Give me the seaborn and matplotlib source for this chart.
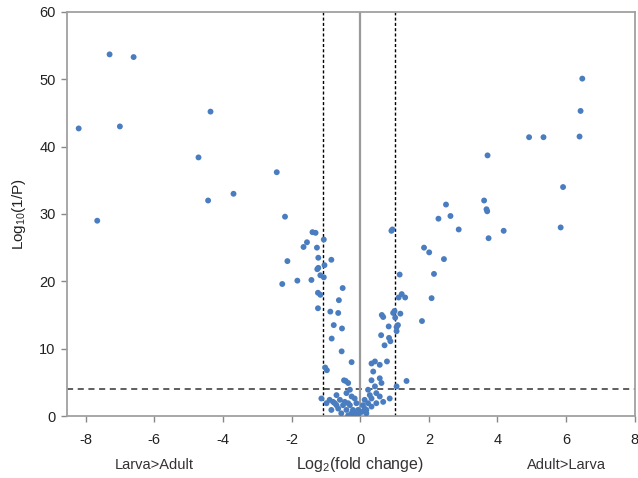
import matplotlib
matplotlib.use("Agg")
import matplotlib.pyplot as plt
import matplotlib.transforms as mtransforms
import seaborn as sns
import pandas as pd

# log2 fold change (x) and log10(1/P) (y)
lfc = [
    -8.20, -7.30, -6.60, -7.00, -7.66, -4.36, -4.71, -4.43, -3.69, -2.43, -2.19,
    -1.39, -1.30, -1.55, -1.65, -1.26, -1.06, -1.22, -0.84, -2.12, -1.04, -1.22,
    -1.25, -1.83, -1.42, -2.27, -1.16, -1.06, -0.51, -1.23, -1.16, -0.62, -1.23,
    -0.87, -0.64, -0.77, -0.53, -0.83, -0.54, -0.25, -1.02, -0.97,
    0.91, 0.94, 1.15, 1.12, 1.21, 1.31, 1.17, 1.00, 1.02, 1.06, 1.10, 1.06,
    0.63, 0.67, 0.83, 0.84, 0.88, 0.61, 0.71, 0.78, 0.96, 1.80, 2.08, 2.15,
    2.44, 1.86, 2.01, 2.28, 2.50, 2.63, 2.87,
    3.71, 3.61, 3.68, 3.70, 3.74, 4.18, 4.92, 5.34, 6.39, 6.42, 6.47, 5.91, 5.84,
    0.33, 0.43, 0.57, 0.38, 0.57, 0.33, 0.62, 0.43, 0.23, 0.47, 0.33, 0.57,
    0.67, 0.86, 0.23, 0.13, 0.04, 0.33, 0.47, 1.06, 1.35, 0.18, -0.06, 0.13,
    0.28, 0.08, 0.18,
    -0.47, -0.42, -0.35, -0.30, -0.40, -0.25, -0.59, -0.74, -0.89, -1.13, -0.84,
    -0.64, -0.50, -0.40, -0.30, -0.21, -0.55, -0.35, -0.16, -0.11, -0.16, -0.69,
    -0.98, -0.45, -0.25, -0.06, -0.11, -0.79, -0.35, -0.69,
]
logp = [
    42.7, 53.7, 53.3, 43.0, 29.0, 45.2, 38.4, 32.0, 33.0, 36.2, 29.6,
    27.3, 27.2, 25.8, 25.1, 25.0, 26.2, 23.5, 23.2, 23.0, 22.4, 22.0,
    21.8, 20.1, 20.2, 19.6, 20.9, 20.6, 19.0, 18.3, 18.0, 17.2, 16.0,
    15.5, 15.3, 13.5, 13.0, 11.5, 9.6, 8.0, 7.2, 6.8,
    27.5, 27.7, 21.0, 17.6, 18.1, 17.6, 15.2, 15.6, 14.6, 13.2, 13.5, 12.6,
    15.0, 14.7, 13.3, 11.6, 11.1, 12.0, 10.5, 8.1, 15.3, 14.1, 17.5, 21.1,
    23.3, 25.0, 24.3, 29.3, 31.4, 29.7, 27.7,
    38.7, 32.0, 30.7, 30.4, 26.4, 27.5, 41.4, 41.4, 41.5, 45.3, 50.1, 34.0, 28.0,
    7.8, 8.1, 7.6, 6.6, 5.6, 5.3, 4.9, 4.4, 3.9, 3.4, 2.6, 2.9,
    2.1, 2.6, 1.9, 1.1, 0.6, 1.4, 1.9, 4.4, 5.2, 0.4, 0.1, 2.4,
    3.1, 1.6, 0.9,
    5.3, 5.2, 4.9, 3.9, 3.4, 2.9, 2.4, 1.9, 2.4, 2.6, 0.9,
    1.1, 1.6, 0.9, 1.6, 0.9, 0.4, 0.1, 0.0, 1.9, 2.6, 3.1,
    1.9, 2.1, 0.4, 0.9, 0.4, 2.1, 1.9, 1.6,
]
x_ticks = [-8, -6, -4, -2, 0, 2, 4, 6, 8]
y_ticks = [0, 10, 20, 30, 40, 50, 60]
fc_thresholds = [-1.08, 1.02]
p_threshold = 4.0

df = pd.DataFrame({"lfc": lfc, "logp": logp})

sns.set_style("white")
plt.rcParams["font.family"] = ["Liberation Sans", "DejaVu Sans"]
plt.rcParams["mathtext.default"] = "regular"

fig = plt.figure(figsize=(6.38, 4.78), dpi=100)
ax = fig.add_axes([0.1045, 0.1297, 0.8905, 0.8453])

for xv in fc_thresholds:
    ax.axvline(xv, color="black", lw=1.0, ls=(0, (2.2, 1.6)), zorder=1)
ax.axhline(p_threshold, color="#333333", lw=1.1, ls=(0, (4, 3)), zorder=1)
ax.axvline(0, color="#9a9a9a", lw=1.6, zorder=1)

sns.scatterplot(data=df, x="lfc", y="logp", ax=ax, s=18, color="#4a7dbf",
                edgecolor="none", linewidth=0, zorder=3)

ax.set_xlim(-8.55, 8)
ax.set_ylim(0, 60)
ax.set_xticks(x_ticks)
ax.set_xticklabels([str(v) for v in x_ticks])
ax.set_yticks(y_ticks)
ax.set_yticklabels([str(v) for v in y_ticks])
ax.tick_params(axis="both", direction="out", length=4, width=1, color="#888888",
               labelsize=10.5, labelcolor="#222222", bottom=True, left=True)
ax.tick_params(axis="x", pad=8)
ax.tick_params(axis="y", pad=4)
for sp in ax.spines.values():
    sp.set_color("#a0a0a0")
    sp.set_linewidth(1.3)

ax.set_xlabel("")
ax.set_ylabel(r"Log$_{10}$(1/P)", fontsize=11, color="#222222", labelpad=8)

trans = mtransforms.blended_transform_factory(ax.transData, fig.transFigure)
ty = 1 - 465 / 478
ax.text(-6, ty, "Larva>Adult", transform=trans, ha="center", va="center",
        fontsize=10.5, color="#333333")
ax.text(0, ty, r"Log$_{2}$(fold change)", transform=trans, ha="center", va="center",
        fontsize=11.5, color="#333333")
ax.text(6, ty, "Adult>Larva", transform=trans, ha="center", va="center",
        fontsize=10.5, color="#333333")

fig.savefig("out.png", dpi=100)
